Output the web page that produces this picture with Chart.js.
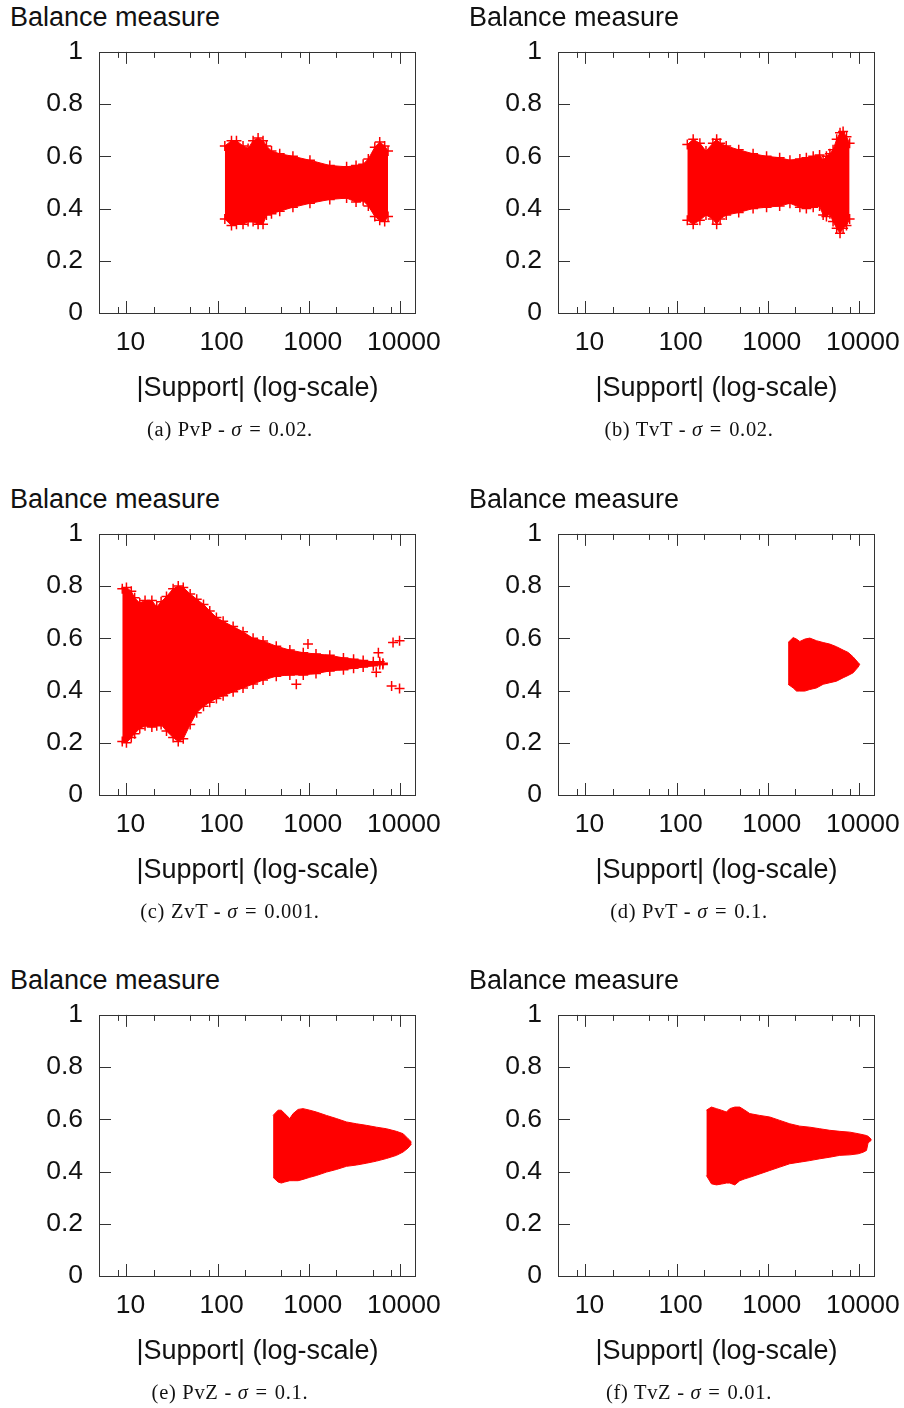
<!DOCTYPE html>
<html>
<head>
<meta charset="utf-8">
<script src="https://cdn.jsdelivr.net/npm/chart.js@4.4.0/dist/chart.umd.min.js"></script>
<style>
  body { margin: 0; background: #fff; width: 904px; height: 1408px; position: relative; overflow: hidden; }
  .panel { position: absolute; width: 460px; height: 445px; }
  .panel canvas { position: absolute; left: 0; top: 20px; }
  .ytitle { position: absolute; left: 10px; top: 2px; font: 27px "Liberation Sans", Arial, sans-serif; line-height: 30px; color: #111; }
  .cap { position: absolute; left: 0; width: 460px; top: 417px; text-align: center; font: 20.5px "Liberation Serif", "Times New Roman", serif; line-height: 24px; letter-spacing: 0.7px; color: #111; }
  .cap .eq { margin: 0 7px; }
</style>
</head>
<body>
<script>
// axis ticks
const xTicks = [10, 100, 1000, 10000];
const xMinorTicks = [8, 20, 50, 80, 200, 500, 800, 2000, 5000, 8000];
const yTicks = [0, 0.2, 0.4, 0.6, 0.8, 1];

// (a) PvP - sigma = 0.02
const pvpSupport = [120, 142, 161, 190, 216, 245, 278, 315, 343, 390, 480, 670, 1030, 1700, 2600, 3300, 3950, 4500, 5300, 6000, 6800, 7400];
const pvpUpper = [0.64, 0.66, 0.66, 0.64, 0.63, 0.66, 0.67, 0.66, 0.64, 0.62, 0.61, 0.60, 0.585, 0.565, 0.56, 0.565, 0.57, 0.59, 0.635, 0.655, 0.64, 0.62];
const pvpLower = [0.36, 0.335, 0.34, 0.34, 0.35, 0.35, 0.34, 0.34, 0.375, 0.38, 0.39, 0.405, 0.42, 0.435, 0.44, 0.425, 0.43, 0.41, 0.37, 0.355, 0.35, 0.37];

// (b) TvT - sigma = 0.02
const tvtSupport = [131, 152, 180, 210, 250, 275, 300, 350, 480, 690, 970, 1350, 1750, 2250, 2650, 3150, 3700, 4050, 4400, 4800, 5200, 5700, 6200, 6700, 7300, 7900];
const tvtUpper = [0.645, 0.665, 0.65, 0.62, 0.65, 0.665, 0.65, 0.64, 0.625, 0.61, 0.60, 0.595, 0.585, 0.59, 0.595, 0.60, 0.605, 0.585, 0.60, 0.61, 0.625, 0.665, 0.69, 0.695, 0.675, 0.65];
const tvtLower = [0.355, 0.34, 0.355, 0.375, 0.36, 0.34, 0.36, 0.375, 0.385, 0.40, 0.405, 0.41, 0.42, 0.405, 0.40, 0.405, 0.41, 0.375, 0.37, 0.38, 0.35, 0.325, 0.305, 0.325, 0.335, 0.36];

// (c) ZvT - sigma = 0.001
const zvtSupport = [9, 10, 11.3, 12.3, 14, 16, 19, 21.5, 24, 27.5, 32.5, 37, 42, 50, 59, 70, 82, 97, 115, 148, 190, 245, 315, 440, 620, 870, 1200, 1700, 2400, 3100, 3950, 5100, 6000, 6500];
const zvtUpper = [0.79, 0.795, 0.78, 0.755, 0.735, 0.745, 0.745, 0.72, 0.74, 0.76, 0.79, 0.80, 0.795, 0.77, 0.75, 0.73, 0.705, 0.68, 0.665, 0.645, 0.625, 0.60, 0.59, 0.57, 0.555, 0.545, 0.54, 0.535, 0.525, 0.52, 0.515, 0.51, 0.51, 0.505];
const zvtLower = [0.205, 0.20, 0.22, 0.235, 0.255, 0.265, 0.26, 0.265, 0.27, 0.245, 0.22, 0.205, 0.215, 0.27, 0.315, 0.34, 0.355, 0.37, 0.38, 0.395, 0.41, 0.425, 0.44, 0.455, 0.46, 0.46, 0.465, 0.475, 0.48, 0.485, 0.49, 0.495, 0.50, 0.50];
const zvtStraySupport = [8400, 9900, 8100, 9900, 980, 730, 5800, 5500];
const zvtStrayBalance = [0.584, 0.591, 0.417, 0.408, 0.578, 0.424, 0.545, 0.47];

// (d) PvT - sigma = 0.1
const pvtSupport = [1670, 1900, 2065, 2245, 2550, 2890, 3420, 4050, 4790, 5670, 6710, 7620, 8640, 9800, 10200];
const pvtUpper = [0.584, 0.603, 0.597, 0.588, 0.597, 0.601, 0.591, 0.584, 0.578, 0.568, 0.555, 0.546, 0.529, 0.507, 0.501];
const pvtLower = [0.424, 0.410, 0.398, 0.398, 0.398, 0.404, 0.410, 0.424, 0.430, 0.436, 0.449, 0.458, 0.468, 0.49, 0.501];

// (e) PvZ - sigma = 0.1
const pvzSupport = [406, 460, 500, 545, 619, 673, 764, 865, 1026, 1213, 1563, 2010, 2590, 3330, 4290, 5530, 7110, 9160, 10840, 12280, 13390];
const pvzUpper = [0.615, 0.635, 0.635, 0.622, 0.603, 0.622, 0.638, 0.641, 0.635, 0.628, 0.615, 0.603, 0.590, 0.583, 0.577, 0.570, 0.564, 0.554, 0.545, 0.526, 0.513];
const pvzLower = [0.378, 0.36, 0.356, 0.36, 0.365, 0.365, 0.365, 0.37, 0.378, 0.385, 0.398, 0.408, 0.42, 0.425, 0.432, 0.44, 0.45, 0.462, 0.475, 0.49, 0.506];

// (f) TvZ - sigma = 0.01
const tvzSupport = [212, 241, 274, 310, 352, 383, 435, 493, 560, 635, 817, 1051, 1354, 1742, 2244, 2890, 3720, 4790, 6165, 7940, 9800, 11100, 12100, 12600, 13700];
const tvzUpper = [0.635, 0.647, 0.641, 0.635, 0.628, 0.641, 0.647, 0.647, 0.635, 0.622, 0.615, 0.609, 0.596, 0.583, 0.574, 0.570, 0.564, 0.558, 0.554, 0.551, 0.545, 0.541, 0.538, 0.535, 0.523];
const tvzLower = [0.385, 0.353, 0.349, 0.352, 0.356, 0.356, 0.349, 0.365, 0.372, 0.378, 0.391, 0.404, 0.417, 0.430, 0.436, 0.442, 0.449, 0.455, 0.462, 0.464, 0.468, 0.474, 0.481, 0.51, 0.52];

const RED = '#ff0000';
const SANS = '"Liberation Sans", Arial, sans-serif';

const panels = [
  { left: 0,   top: 0,   label: '(a) PvP', sigma: '0.02',  xs: pvpSupport, up: pvpUpper, lo: pvpLower, marker: 5 },
  { left: 459, top: 0,   label: '(b) TvT', sigma: '0.02',  xs: tvtSupport, up: tvtUpper, lo: tvtLower, marker: 5 },
  { left: 0,   top: 482, label: '(c) ZvT', sigma: '0.001', xs: zvtSupport, up: zvtUpper, lo: zvtLower, marker: 5,
    strayX: zvtStraySupport, strayY: zvtStrayBalance },
  { left: 459, top: 482, label: '(d) PvT', sigma: '0.1',   xs: pvtSupport, up: pvtUpper, lo: pvtLower, marker: 0 },
  { left: 0,   top: 963, label: '(e) PvZ', sigma: '0.1',   xs: pvzSupport, up: pvzUpper, lo: pvzLower, marker: 0 },
  { left: 459, top: 963, label: '(f) TvZ', sigma: '0.01',  xs: tvzSupport, up: tvzUpper, lo: tvzLower, marker: 0 },
];

// frame + inward tics like gnuplot
const frameTicks = {
  id: 'frameTicks',
  afterDatasetsDraw(chart) {
    const { ctx, chartArea: a, scales: { x, y } } = chart;
    ctx.save();
    ctx.strokeStyle = '#333';
    ctx.lineWidth = 1;
    ctx.beginPath();
    yTicks.forEach(v => {
      const py = Math.round(y.getPixelForValue(v)) + 0.5;
      ctx.moveTo(a.left, py); ctx.lineTo(a.left + 12, py);
      ctx.moveTo(a.right, py); ctx.lineTo(a.right - 12, py);
    });
    const xt = (v, len) => {
      const px = Math.round(x.getPixelForValue(v)) + 0.5;
      ctx.moveTo(px, a.bottom); ctx.lineTo(px, a.bottom - len);
      ctx.moveTo(px, a.top); ctx.lineTo(px, a.top + len);
    };
    xTicks.forEach(v => xt(v, 12));
    xMinorTicks.forEach(v => xt(v, 6));
    ctx.stroke();
    ctx.strokeRect(Math.round(a.left) + 0.5, Math.round(a.top) + 0.5,
      Math.round(a.right - a.left) - 1, Math.round(a.bottom - a.top));
    ctx.restore();
  }
};

panels.forEach(p => {
  const div = document.createElement('div');
  div.className = 'panel';
  div.style.left = p.left + 'px';
  div.style.top = p.top + 'px';
  div.innerHTML = '<div class="ytitle">Balance measure</div>' +
    '<canvas width="460" height="400"></canvas>' +
    '<div class="cap">' + p.label + ' - <i>σ</i><span class="eq">=</span>' + p.sigma + '.</div>';
  document.body.appendChild(div);
  const canvas = div.querySelector('canvas');

  const lower = p.xs.map((v, k) => ({ x: v, y: p.lo[k] }));
  const upper = p.xs.map((v, k) => ({ x: v, y: p.up[k] }));
  const datasets = [
    { data: lower, showLine: true, fill: false, borderColor: RED, borderWidth: 1,
      pointStyle: 'cross', pointRadius: p.marker, pointBorderWidth: 1.5, pointBorderColor: RED },
    { data: upper, showLine: true, fill: '-1', backgroundColor: RED, borderColor: RED, borderWidth: 1,
      pointStyle: 'cross', pointRadius: p.marker, pointBorderWidth: 1.5, pointBorderColor: RED },
  ];
  if (p.strayX) {
    datasets.push({
      data: p.strayX.map((v, k) => ({ x: v, y: p.strayY[k] })),
      showLine: false, pointStyle: 'cross', pointRadius: 5, pointBorderWidth: 1.5, pointBorderColor: RED
    });
  }

  new Chart(canvas, {
    type: 'scatter',
    data: { datasets },
    options: {
      responsive: false,
      animation: false,
      layout: { padding: { top: 0, right: 44, bottom: 7, left: 0 } },
      elements: { line: { tension: 0 } },
      plugins: { legend: { display: false }, tooltip: { enabled: false } },
      scales: {
        x: {
          type: 'logarithmic',
          min: 5,
          max: 15000,
          grid: { display: false, drawTicks: false },
          border: { display: false },
          afterBuildTicks: s => { s.ticks = xTicks.map(v => ({ value: v })); },
          afterFit: s => { s.height = 100; },
          ticks: {
            autoSkip: false, maxRotation: 0, padding: 14, labelOffset: 4,
            color: '#111', font: { family: SANS, size: 26.5 },
            callback: v => String(v)
          },
          title: {
            display: true, text: '|Support| (log-scale)', color: '#111',
            font: { family: SANS, size: 27 }, padding: { top: 0, bottom: 8 }
          }
        },
        y: {
          min: 0,
          max: 1,
          grid: { display: false, drawTicks: false },
          border: { display: false },
          afterBuildTicks: s => { s.ticks = yTicks.map(v => ({ value: v })); },
          afterFit: s => { s.width = 99; },
          ticks: {
            padding: 16, color: '#111', font: { family: SANS, size: 26.5 },
            callback: v => String(v)
          }
        }
      }
    },
    plugins: [frameTicks]
  });
});
</script>
</body>
</html>
